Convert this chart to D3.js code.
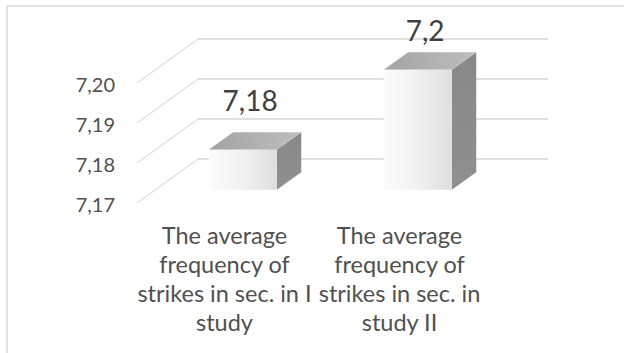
<!DOCTYPE html>
<html>
<head>
<meta charset="utf-8">
<script src="https://cdn.jsdelivr.net/npm/d3@7"></script>
<style>
  html, body { margin: 0; padding: 0; background: #fff; }
  svg { display: block; font-family: Lato, "Open Sans", sans-serif; }
</style>
</head>
<body>
<svg id="chart" width="624" height="353"></svg>
<script>
// Category names, one entry per wrapped line of the axis label
const categories = [
  ["The average", "frequency of", "strikes in sec. in I", "study"],
  ["The average", "frequency of", "strikes in sec. in", "study II"]
];
const categoryKeys = ["study I", "study II"];
const values = [7.18, 7.2];
const yTicks = [7.17, 7.18, 7.19, 7.20];
const yDomain = [7.17, 7.20];

const svg = d3.select("#chart");
const W = 624, H = 353;

// Comma-decimal number formats
const locale = d3.formatLocale({ decimal: ",", thousands: " ", grouping: [3], currency: ["", ""] });
const fmtTick = locale.format(".2f");
const fmtValue = locale.format(".2~f");

// Chart frame (runs past the right and bottom edges)
svg.append("rect")
  .attr("x", 7).attr("y", 6)
  .attr("width", W + 20).attr("height", H + 20)
  .attr("fill", "#fff")
  .attr("stroke", "#d9d9d9").attr("stroke-width", 1.5);

// Front plane of the 3D plot box
const x = d3.scaleBand().domain(categoryKeys).range([137, 487])
  .paddingInner(0.611).paddingOuter(0.3055);
const y = d3.scaleLinear().domain(yDomain).range([203, 83]);

// Oblique depth vector (full depth of the floor)
const DX = 61, DY = -44;
const proj = (px, py, z) => [px + z * DX, py + z * DY];

const defs = svg.append("defs");
const gFront = defs.append("linearGradient").attr("id", "front")
  .attr("x1", 0).attr("x2", 1).attr("y1", 0).attr("y2", 0);
gFront.append("stop").attr("offset", 0).attr("stop-color", "#fcfcfc");
gFront.append("stop").attr("offset", 0.5).attr("stop-color", "#f1f1f1");
gFront.append("stop").attr("offset", 1).attr("stop-color", "#dedede");
const gTop = defs.append("linearGradient").attr("id", "topface")
  .attr("x1", 0).attr("x2", 1).attr("y1", 0).attr("y2", 0);
gTop.append("stop").attr("offset", 0).attr("stop-color", "#a3a3a3");
gTop.append("stop").attr("offset", 1).attr("stop-color", "#bebebe");
const gSide = defs.append("linearGradient").attr("id", "side")
  .attr("x1", 0).attr("x2", 0).attr("y1", 0).attr("y2", 1);
gSide.append("stop").attr("offset", 0).attr("stop-color", "#888888");
gSide.append("stop").attr("offset", 1).attr("stop-color", "#909090");

const xl = x.range()[0], xr = x.range()[1];

// Gridlines: side wall diagonals and back wall horizontals
const grid = svg.append("g").attr("stroke", "#e0e0e0").attr("fill", "none");
yTicks.forEach(t => {
  const a = proj(xl, y(t), 0), b = proj(xl, y(t), 1), c = proj(xr, y(t), 1);
  grid.append("line").attr("x1", a[0]).attr("y1", a[1]).attr("x2", b[0]).attr("y2", b[1])
    .attr("stroke-width", 1.3);
  grid.append("line").attr("x1", b[0]).attr("y1", b[1]).attr("x2", c[0]).attr("y2", c[1])
    .attr("stroke-width", 2);
});

// Tick labels on the front-left edge
svg.append("g").selectAll("text").data(yTicks).join("text")
  .attr("x", 115).attr("y", d => y(d) + 4)
  .attr("text-anchor", "end").attr("dominant-baseline", "middle")
  .attr("font-size", 20).attr("fill", "#505050")
  .text(d => fmtTick(d));

// 3D bars: front face, top face, right side face
const zF = 0.3, zB = 0.7;
const bars = svg.append("g");
values.forEach((v, i) => {
  const x0 = x(categoryKeys[i]), x1 = x0 + x.bandwidth();
  const y0 = y(yDomain[0]), y1 = y(v);
  const f = [proj(x0, y1, zF), proj(x1, y1, zF), proj(x1, y0, zF), proj(x0, y0, zF)];
  const tp = [proj(x0, y1, zF), proj(x1, y1, zF), proj(x1, y1, zB), proj(x0, y1, zB)];
  const sd = [proj(x1, y1, zF), proj(x1, y1, zB), proj(x1, y0, zB), proj(x1, y0, zF)];
  const poly = pts => "M" + pts.map(p => p.join(",")).join("L") + "Z";
  bars.append("path").attr("d", poly(sd)).attr("fill", "url(#side)");
  bars.append("path").attr("d", poly(tp)).attr("fill", "url(#topface)");
  bars.append("path").attr("d", poly(f)).attr("fill", "url(#front)");
});

// Value labels above each bar, kept inside the plot area
const plotTop = 20, capH = 21;
svg.append("g").selectAll("text").data(values).join("text")
  .attr("x", (d, i) => proj(x(categoryKeys[i]) + x.bandwidth() / 2, 0, 0.42)[0])
  .attr("y", d => Math.max(proj(0, y(d), zB)[1] - 21, plotTop + capH))
  .attr("text-anchor", "middle")
  .attr("font-size", 28).attr("fill", "#404040")
  .text(d => fmtValue(d));

// Category labels under the front edge
const cat = svg.append("g").attr("font-size", 23.5).attr("fill", "#505050")
  .attr("text-anchor", "middle");
categories.forEach((lines, i) => {
  const cx = x(categoryKeys[i]) + x.bandwidth() / 2;
  const t = cat.append("text").attr("x", cx).attr("y", 244);
  lines.forEach((ln, j) => {
    t.append("tspan").attr("x", cx).attr("y", 244 + j * 29).text(ln);
  });
});
</script>
</body>
</html>
